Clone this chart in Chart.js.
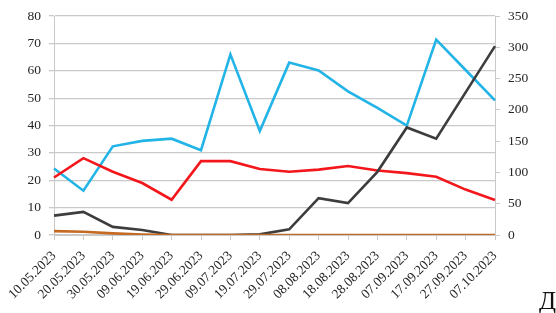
<!DOCTYPE html>
<html>
<head>
<meta charset="utf-8">
<script src="https://cdn.jsdelivr.net/npm/chart.js@4/dist/chart.umd.min.js"></script>
<style>
  html, body { margin: 0; padding: 0; background: #fff; }
  #wrap { position: relative; width: 556px; height: 313px; }
  #letter { position: absolute; left: 539px; top: 287px; font-family: 'Liberation Serif', serif; font-size: 25px; color: #111; }
</style>
</head>
<body>
<div id="wrap">
  <canvas id="grafico" width="556" height="313"></canvas>
  <div id="letter">Д</div>
</div>
<script>
const categories = ['10.05.2023', '20.05.2023', '30.05.2023', '09.06.2023', '19.06.2023', '29.06.2023',
    '09.07.2023', '19.07.2023', '29.07.2023', '08.08.2023', '18.08.2023', '28.08.2023',
    '07.09.2023', '17.09.2023', '27.09.2023', '07.10.2023'];

// left axis
const blueValues = [24.3, 16.2, 32.4, 34.4, 35.2, 31.0, 66.0, 38.0, 63.0, 60.1, 52.5, 46.5, 40.0, 71.4, 60.3, 49.2];
const redValues = [21.0, 28.1, 23.1, 19.0, 12.9, 27.0, 27.0, 24.1, 23.1, 23.9, 25.2, 23.6, 22.6, 21.3, 16.6, 12.8];
const brownValues = [1.4, 1.2, 0.6, 0.2, 0, 0, 0, 0, 0, 0, 0, 0, 0, 0, 0, 0];

// right axis
const grayValues = [31, 37, 13, 8, 0, 0, 0, 1, 9, 59, 51, 101, 172, 154, 228, 302];

const leftAxis = { min: 0, max: 80, step: 10 };
const rightAxis = { min: 0, max: 350, step: 50 };

const fonte = { family: "'Liberation Serif', 'Times New Roman', serif", size: 13.5 };
const corTexto = '#262626';
const corGrade = '#c9c9c9';

function serie(label, data, cor, eixo) {
    return {
        label: label,
        data: data,
        borderColor: cor,
        backgroundColor: cor,
        borderWidth: 2.6,
        pointRadius: 0,
        tension: 0,
        yAxisID: eixo
    };
}

const ctx = document.getElementById('grafico');

new Chart(ctx, {
    type: 'line',
    data: {
        labels: categories,
        datasets: [
            serie('brown', brownValues, '#c56a22', 'y'),
            serie('gray', grayValues, '#3d3d3d', 'y1'),
            serie('red', redValues, '#f3171c', 'y'),
            serie('blue', blueValues, '#22b4e6', 'y')
        ]
    },
    options: {
        responsive: false,
        animation: false,
        layout: { padding: { top: 10, right: 0, left: 0, bottom: 0 } },
        plugins: {
            legend: { display: false },
            tooltip: { enabled: false }
        },
        scales: {
            x: {
                offset: false,
                grid: { display: true, drawOnChartArea: false, drawTicks: true, tickLength: 5, color: corGrade },
                border: { color: corGrade, width: 1 },
                ticks: { color: corTexto, font: fonte, maxRotation: 45, minRotation: 45, autoSkip: false, padding: 8 },
                afterFit: function(scale) { scale.height = 78; }
            },
            y: {
                position: 'left',
                min: leftAxis.min,
                max: leftAxis.max,
                ticks: { stepSize: leftAxis.step, color: corTexto, font: fonte, padding: 8 },
                grid: { color: corGrade, lineWidth: 1.3, tickLength: 5 },
                border: { color: corGrade, width: 1 },
                afterFit: function(scale) { scale.width = 54; }
            },
            y1: {
                position: 'right',
                min: rightAxis.min,
                max: rightAxis.max,
                ticks: { stepSize: rightAxis.step, color: corTexto, font: fonte, padding: 8 },
                grid: { drawOnChartArea: false, color: corGrade, tickLength: 5 },
                border: { color: corGrade, width: 1 },
                afterFit: function(scale) { scale.width = 61; }
            }
        }
    }
});
</script>
</body>
</html>
